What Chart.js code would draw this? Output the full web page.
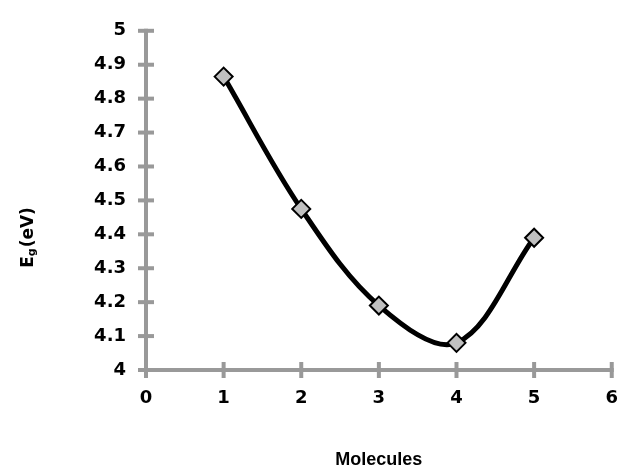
<!DOCTYPE html>
<html>
<head>
<meta charset="utf-8">
<script src="https://cdn.jsdelivr.net/npm/chart.js@4"></script>
<style>
  html, body { margin: 0; padding: 0; background: #fff; }
  #wrap { width: 636px; height: 475px; }
</style>
</head>
<body>
<div id="wrap"><canvas id="gapChart"></canvas></div>
<script>
// data
const molecules = [1, 2, 3, 4, 5];
const gapValues = [4.865, 4.475, 4.19, 4.08, 4.39];
const xTicks = [0, 1, 2, 3, 4, 5, 6];
const yTicks = [4, 4.1, 4.2, 4.3, 4.4, 4.5, 4.6, 4.7, 4.8, 4.9, 5];

const axisGrey = '#999999';
const tickFont = 'DejaVu Sans, sans-serif';
const titleFont = 'Liberation Sans, Arial, sans-serif';

// ticks crossing the axis lines + the y title with its subscript
const axisDecor = {
    id: 'axisDecor',
    beforeDatasetsDraw(chart) {
        const c = chart.ctx;
        const x = chart.scales.x, y = chart.scales.y;
        const area = chart.chartArea;
        c.save();
        c.strokeStyle = axisGrey;
        c.lineWidth = 4;
        c.beginPath();
        c.moveTo(area.left, area.top - 2);
        c.lineTo(area.left, area.bottom);
        c.lineTo(area.right + 2, area.bottom);
        c.stroke();
        yTicks.forEach(v => {
            const py = y.getPixelForValue(v);
            c.beginPath();
            c.moveTo(area.left - 8, py);
            c.lineTo(area.left + 8, py);
            c.stroke();
        });
        xTicks.forEach(v => {
            const px = x.getPixelForValue(v);
            c.beginPath();
            c.moveTo(px, area.bottom - 8);
            c.lineTo(px, area.bottom + 8);
            c.stroke();
        });
        c.restore();

        // y title: E with subscript g, rotated
        c.save();
        c.translate(33, 238);
        c.rotate(-Math.PI / 2);
        c.fillStyle = '#000';
        c.textBaseline = 'alphabetic';
        c.font = 'bold 17px ' + tickFont;
        const w1 = c.measureText('E').width;
        c.font = 'bold 11px ' + tickFont;
        const w2 = c.measureText('g').width;
        c.font = 'bold 17px ' + tickFont;
        const w3 = c.measureText('(eV)').width;
        let sx = -(w1 + w2 + w3) / 2;
        c.fillText('E', sx, 0);
        sx += w1;
        c.font = 'bold 11px ' + tickFont;
        c.fillText('g', sx, 2);
        sx += w2 + 1;
        c.font = 'bold 17px ' + tickFont;
        c.fillText('(eV)', sx, 0);
        c.restore();
    }
};

new Chart(document.getElementById('gapChart'), {
    type: 'line',
    data: {
        datasets: [{
            data: molecules.map((m, i) => ({ x: m, y: gapValues[i] })),
            borderColor: '#000',
            borderWidth: 5,
            tension: 0.35,
            pointStyle: 'rectRot',
            pointRadius: 9,
            pointHoverRadius: 9,
            pointBackgroundColor: '#c0c0c0',
            pointBorderColor: '#000',
            pointBorderWidth: 2
        }]
    },
    options: {
        responsive: true,
        maintainAspectRatio: false,
        animation: false,
        layout: { padding: { top: 22, right: 23, left: 0, bottom: 0 } },
        plugins: {
            legend: { display: false },
            tooltip: { enabled: false }
        },
        scales: {
            x: {
                type: 'linear',
                min: 0,
                max: 6,
                afterBuildTicks: s => { s.ticks = xTicks.map(v => ({ value: v })); },
                afterFit: s => { s.height = 105; },
                grid: { display: false, drawTicks: false },
                border: { display: false },
                ticks: {
                    color: '#000',
                    padding: 18,
                    font: { family: tickFont, size: 18, weight: 'bold' }
                },
                title: {
                    display: true,
                    text: 'Molecules',
                    color: '#000',
                    font: { family: titleFont, size: 18, weight: 'bold' },
                    padding: { top: 36 }
                }
            },
            y: {
                min: 4,
                max: 5,
                afterBuildTicks: s => { s.ticks = yTicks.map(v => ({ value: v })); },
                afterFit: s => { s.width = 146; },
                grid: { display: false, drawTicks: false },
                border: { display: false },
                ticks: {
                    color: '#000',
                    padding: 20,
                    font: { family: tickFont, size: 18, weight: 'bold' },
                    callback: v => String(Math.round(v * 10) / 10)
                }
            }
        }
    },
    plugins: [axisDecor]
});
</script>
</body>
</html>
